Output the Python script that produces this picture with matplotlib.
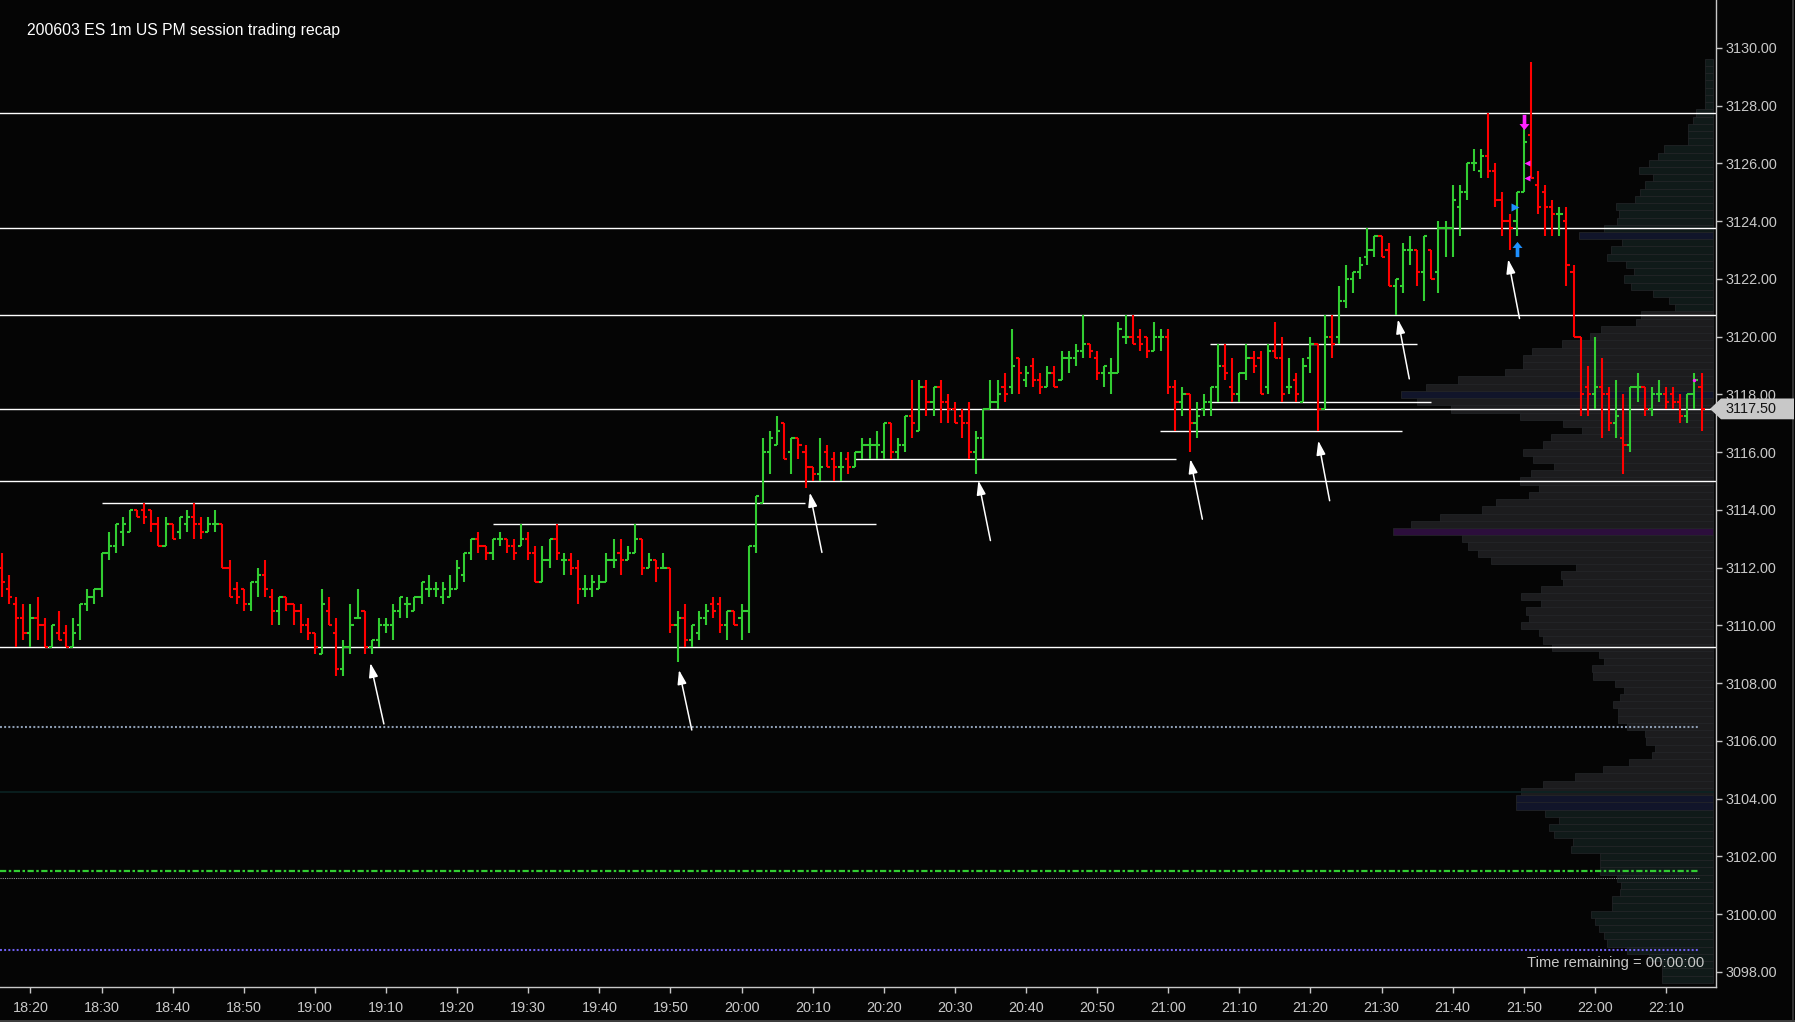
import matplotlib
matplotlib.use('Agg')
import matplotlib.pyplot as plt
from matplotlib.path import Path
from matplotlib.patches import Polygon
from matplotlib.lines import Line2D
import matplotlib.transforms as mtransforms
import numpy as np

plt.rcParams['font.family'] = ['Liberation Sans', 'DejaVu Sans']
plt.rcParams['lines.scale_dashes'] = False

# ---------------- data ----------------
title = "200603 ES 1m US PM session trading recap"
time_labels = ["18:20", "18:30", "18:40", "18:50", "19:00", "19:10", "19:20", "19:30",
               "19:40", "19:50", "20:00", "20:10", "20:20", "20:30", "20:40", "20:50",
               "21:00", "21:10", "21:20", "21:30", "21:40", "21:50", "22:00", "22:10"]
first_label_bar = 4   # bar index of 18:20 (first bar = 18:16)

opens = [3112.0, 3111.25, 3110.75, 3110.25, 3109.75, 3110.25, 3110.0, 3109.25, 3109.75, 3109.75,
         3109.25, 3110.0, 3110.75, 3111.0, 3111.25, 3112.5, 3112.75, 3113.25, 3113.25, 3114.0,
         3114.0, 3114.0, 3113.5, 3112.75, 3113.5, 3113.25, 3113.5, 3113.75, 3113.5, 3113.25,
         3113.5, 3113.5, 3112.0, 3111.25, 3111.25, 3110.75, 3111.5, 3111.75, 3111.0, 3110.5,
         3111.0, 3110.75, 3110.5, 3110.0, 3109.75, 3109.0, 3110.5, 3109.75, 3108.5, 3109.25,
         3110.25, 3110.5, 3109.25, 3109.5, 3110.0, 3110.0, 3110.5, 3110.75, 3110.5, 3111.0,
         3111.25, 3111.25, 3111.0, 3111.0, 3111.25, 3111.75, 3112.5, 3113.0, 3112.75, 3112.5,
         3113.0, 3113.0, 3112.75, 3112.75, 3113.0, 3112.5, 3111.5, 3112.25, 3113.0, 3112.25,
         3112.25, 3112.0, 3111.25, 3111.25, 3111.25, 3111.5, 3112.25, 3112.5, 3112.25, 3112.5,
         3113.0, 3112.0, 3112.25, 3112.0, 3112.0, 3110.0, 3110.25, 3109.5, 3109.75, 3110.25,
         3110.75, 3110.75, 3110.0, 3110.5, 3110.25, 3110.5, 3112.75, 3114.25, 3116.0, 3116.25,
         3117.0, 3116.0, 3116.5, 3116.0, 3115.5, 3115.25, 3116.0, 3115.75, 3115.5, 3115.75,
         3115.5, 3116.0, 3116.25, 3116.25, 3116.0, 3117.0, 3116.0, 3116.25, 3117.25, 3116.75,
         3118.25, 3117.75, 3118.25, 3117.75, 3117.5, 3117.25, 3117.0, 3116.0, 3116.5, 3117.5,
         3117.75, 3118.25, 3118.25, 3119.25, 3118.5, 3119.0, 3118.5, 3118.25, 3118.75, 3118.5,
         3119.25, 3119.25, 3119.5, 3119.75, 3119.25, 3118.75, 3118.75, 3118.75, 3120.0, 3120.0,
         3120.0, 3120.0, 3119.5, 3120.0, 3120.0, 3118.25, 3117.75, 3118.0, 3117.0, 3117.5,
         3117.75, 3118.25, 3119.0, 3118.25, 3118.0, 3118.75, 3119.25, 3119.25, 3118.25, 3119.5,
         3119.25, 3118.25, 3118.5, 3117.75, 3119.25, 3119.75, 3117.5, 3120.0, 3120.0, 3121.25,
         3122.0, 3122.25, 3122.75, 3123.0, 3123.5, 3123.0, 3121.75, 3121.75, 3123.0, 3123.0,
         3122.25, 3123.0, 3122.25, 3123.75, 3123.75, 3124.5, 3125.0, 3126.0, 3125.75, 3126.25,
         3125.75, 3124.75, 3124.0, 3124.0, 3125.0, 3127.0, 3125.25, 3125.0, 3124.5, 3124.25,
         3124.0, 3122.25, 3120.0, 3118.25, 3118.0, 3118.25, 3118.0, 3117.0, 3116.5, 3116.25,
         3118.25, 3118.25, 3117.5, 3118.0, 3118.0, 3118.0, 3117.75, 3117.25, 3118.0, 3118.25]
highs = [3112.5, 3111.75, 3111.0, 3110.75, 3110.75, 3111.0, 3110.25, 3110.0, 3110.5, 3110.0,
         3110.25, 3110.75, 3111.25, 3111.25, 3112.5, 3113.25, 3113.5, 3113.75, 3114.0, 3114.0,
         3114.25, 3114.0, 3113.75, 3113.75, 3113.5, 3113.75, 3114.0, 3114.25, 3113.75, 3113.75,
         3114.0, 3113.5, 3112.25, 3111.5, 3111.25, 3111.5, 3112.0, 3112.25, 3111.25, 3111.0,
         3111.0, 3110.75, 3110.75, 3110.25, 3109.75, 3111.25, 3111.0, 3110.25, 3109.5, 3110.75,
         3111.25, 3110.5, 3109.5, 3110.25, 3110.25, 3110.75, 3111.0, 3111.0, 3111.0, 3111.5,
         3111.75, 3111.5, 3111.5, 3111.75, 3112.25, 3112.5, 3113.0, 3113.25, 3112.75, 3113.0,
         3113.25, 3113.0, 3113.0, 3113.5, 3113.25, 3112.75, 3112.75, 3113.0, 3113.5, 3112.5,
         3112.5, 3112.25, 3111.75, 3111.75, 3111.75, 3112.5, 3113.0, 3113.0, 3112.75, 3113.5,
         3113.0, 3112.5, 3112.25, 3112.5, 3112.0, 3110.5, 3110.75, 3110.0, 3110.5, 3110.75,
         3111.0, 3111.0, 3110.5, 3110.5, 3110.75, 3112.75, 3114.5, 3116.5, 3116.75, 3117.25,
         3117.0, 3116.5, 3116.5, 3116.25, 3115.5, 3116.5, 3116.25, 3116.0, 3116.0, 3116.0,
         3116.0, 3116.5, 3116.5, 3116.75, 3117.0, 3117.0, 3116.5, 3117.25, 3118.5, 3118.5,
         3118.5, 3118.25, 3118.5, 3118.0, 3117.75, 3117.5, 3117.75, 3116.75, 3117.5, 3118.5,
         3118.5, 3118.75, 3120.25, 3119.25, 3119.0, 3119.25, 3118.75, 3119.0, 3119.0, 3119.5,
         3119.5, 3119.75, 3120.75, 3119.75, 3119.5, 3119.0, 3119.25, 3120.5, 3120.75, 3120.75,
         3120.25, 3120.0, 3120.5, 3120.25, 3120.25, 3118.5, 3118.25, 3118.0, 3117.75, 3118.0,
         3118.25, 3119.75, 3119.75, 3119.25, 3118.75, 3119.75, 3119.5, 3119.5, 3119.75, 3120.5,
         3120.0, 3119.25, 3118.75, 3119.25, 3120.0, 3119.75, 3120.75, 3120.75, 3121.75, 3122.5,
         3122.25, 3122.75, 3123.75, 3123.5, 3123.5, 3123.25, 3122.0, 3123.25, 3123.5, 3123.0,
         3123.5, 3123.0, 3124.0, 3124.0, 3125.25, 3125.25, 3126.0, 3126.5, 3126.5, 3127.75,
         3126.0, 3125.0, 3124.25, 3125.0, 3127.5, 3129.5, 3125.75, 3125.25, 3124.75, 3124.5,
         3124.5, 3122.5, 3120.0, 3119.0, 3120.0, 3119.25, 3118.25, 3118.5, 3118.0, 3118.25,
         3118.75, 3118.25, 3118.25, 3118.5, 3118.25, 3118.25, 3118.0, 3118.0, 3118.75, 3118.75]
lows = [3111.0, 3110.75, 3109.25, 3109.5, 3109.25, 3109.5, 3109.25, 3109.25, 3109.5, 3109.25,
        3109.25, 3109.5, 3110.5, 3110.75, 3111.0, 3112.25, 3112.5, 3112.75, 3113.25, 3113.75,
        3113.5, 3113.25, 3112.75, 3112.75, 3113.0, 3113.0, 3113.25, 3113.0, 3113.0, 3113.25,
        3113.25, 3112.0, 3111.0, 3110.75, 3110.5, 3110.5, 3111.0, 3111.0, 3110.0, 3110.0,
        3110.5, 3110.0, 3109.75, 3109.5, 3109.0, 3109.0, 3110.0, 3108.25, 3108.25, 3109.0,
        3110.25, 3109.0, 3109.0, 3109.25, 3109.75, 3109.5, 3110.25, 3110.25, 3110.5, 3110.75,
        3111.0, 3111.0, 3110.75, 3111.0, 3111.25, 3111.5, 3112.25, 3112.5, 3112.25, 3112.25,
        3112.75, 3112.5, 3112.25, 3112.75, 3112.25, 3111.5, 3111.5, 3112.0, 3112.25, 3111.75,
        3111.75, 3110.75, 3111.0, 3111.0, 3111.25, 3111.5, 3112.0, 3111.75, 3112.25, 3112.5,
        3111.75, 3112.0, 3111.5, 3112.0, 3109.75, 3108.75, 3109.25, 3109.25, 3109.5, 3110.0,
        3110.25, 3109.75, 3109.5, 3110.0, 3109.5, 3109.75, 3112.5, 3114.25, 3115.25, 3116.25,
        3115.75, 3115.25, 3115.75, 3114.75, 3115.0, 3115.0, 3115.5, 3115.0, 3115.0, 3115.25,
        3115.5, 3115.75, 3115.75, 3115.75, 3115.75, 3115.75, 3115.75, 3116.0, 3116.5, 3116.75,
        3117.25, 3117.25, 3117.0, 3117.0, 3117.0, 3116.5, 3115.75, 3115.25, 3115.75, 3117.5,
        3117.5, 3117.75, 3118.0, 3118.0, 3118.25, 3118.25, 3118.0, 3118.25, 3118.25, 3118.5,
        3118.75, 3119.0, 3119.25, 3119.25, 3118.5, 3118.25, 3118.0, 3118.75, 3119.75, 3119.75,
        3119.5, 3119.25, 3119.5, 3119.5, 3118.0, 3116.75, 3117.25, 3116.0, 3116.5, 3117.25,
        3117.25, 3117.75, 3118.5, 3117.75, 3117.75, 3118.5, 3118.75, 3118.0, 3118.0, 3119.25,
        3117.75, 3118.0, 3117.75, 3117.75, 3118.75, 3116.75, 3117.5, 3119.25, 3119.75, 3121.0,
        3121.5, 3122.0, 3122.5, 3122.75, 3122.75, 3121.75, 3120.75, 3121.5, 3122.5, 3121.75,
        3121.25, 3122.0, 3121.5, 3122.75, 3122.75, 3123.5, 3124.75, 3125.75, 3125.5, 3125.5,
        3124.5, 3123.5, 3123.0, 3123.5, 3125.0, 3125.5, 3124.25, 3123.5, 3123.5, 3123.5,
        3121.75, 3120.0, 3117.25, 3117.25, 3117.5, 3116.5, 3116.75, 3116.5, 3115.25, 3116.0,
        3117.75, 3117.25, 3117.25, 3117.75, 3117.5, 3117.5, 3117.0, 3117.0, 3117.5, 3116.75]
closes = [3111.5, 3111.0, 3110.25, 3109.75, 3110.25, 3110.0, 3109.25, 3110.0, 3109.5, 3109.25,
          3109.75, 3110.75, 3111.0, 3111.25, 3112.5, 3112.75, 3113.5, 3113.5, 3114.0, 3113.75,
          3113.75, 3113.5, 3112.75, 3113.5, 3113.0, 3113.75, 3113.75, 3113.5, 3113.25, 3113.5,
          3113.5, 3112.0, 3111.0, 3111.0, 3110.75, 3111.5, 3111.75, 3111.25, 3110.5, 3111.0,
          3110.75, 3110.5, 3110.0, 3109.75, 3109.25, 3110.75, 3110.0, 3108.5, 3109.25, 3110.0,
          3110.25, 3109.25, 3109.5, 3110.0, 3110.0, 3110.5, 3111.0, 3110.75, 3111.0, 3111.5,
          3111.25, 3111.25, 3111.25, 3111.25, 3112.0, 3112.5, 3113.0, 3112.75, 3112.5, 3113.0,
          3113.0, 3112.75, 3112.5, 3113.0, 3112.5, 3111.5, 3112.25, 3113.0, 3112.5, 3112.25,
          3112.0, 3111.25, 3111.25, 3111.5, 3111.5, 3112.25, 3112.25, 3112.25, 3112.5, 3113.0,
          3112.0, 3112.25, 3112.0, 3112.0, 3110.0, 3110.25, 3109.5, 3110.0, 3110.25, 3110.5,
          3110.5, 3110.0, 3110.5, 3110.0, 3110.5, 3112.75, 3114.5, 3116.0, 3116.5, 3116.75,
          3115.75, 3116.5, 3116.25, 3115.5, 3115.25, 3115.5, 3115.5, 3115.5, 3115.5, 3115.5,
          3116.0, 3116.25, 3116.25, 3116.25, 3117.0, 3116.0, 3116.25, 3117.25, 3117.0, 3118.25,
          3117.75, 3118.25, 3117.75, 3117.5, 3117.0, 3117.0, 3116.0, 3116.5, 3117.5, 3117.75,
          3118.0, 3118.0, 3119.0, 3118.75, 3118.75, 3118.5, 3118.25, 3118.75, 3118.25, 3119.25,
          3119.25, 3119.5, 3119.75, 3119.5, 3118.75, 3119.0, 3118.75, 3120.25, 3120.0, 3119.75,
          3119.75, 3119.5, 3120.0, 3120.0, 3118.25, 3117.75, 3118.0, 3117.0, 3117.25, 3117.75,
          3118.25, 3119.0, 3118.75, 3118.0, 3118.75, 3119.25, 3119.0, 3118.0, 3119.5, 3119.25,
          3118.0, 3118.25, 3118.0, 3119.0, 3119.75, 3117.5, 3120.0, 3119.75, 3121.25, 3122.0,
          3122.25, 3122.5, 3123.0, 3123.5, 3122.75, 3121.75, 3122.0, 3123.0, 3123.0, 3122.25,
          3123.5, 3122.0, 3123.75, 3123.75, 3124.75, 3125.0, 3126.0, 3126.0, 3126.25, 3125.75,
          3124.75, 3124.0, 3123.75, 3125.0, 3126.75, 3125.5, 3124.5, 3124.5, 3124.25, 3124.25,
          3122.5, 3120.0, 3118.0, 3118.0, 3118.25, 3118.0, 3117.0, 3117.25, 3116.25, 3118.25,
          3118.25, 3117.5, 3118.0, 3118.0, 3117.75, 3117.75, 3117.25, 3118.0, 3118.5, 3117.5]

# horizontal levels
full_levels = [3127.75, 3123.75, 3120.75, 3117.5, 3115.0, 3109.25]
seg_prices = [3114.25, 3113.5, 3115.75, 3116.75, 3119.75, 3117.75]
seg_start = [14.1, 69.0, 120.0, 162.8, 169.9, 169.9]
seg_end = [112.9, 122.9, 165.1, 196.9, 199.0, 201.0]
dotted_level = 3106.5
green_dashdot_level = 3101.5
grey_dotted_level = 3101.25
blue_dotted_level = 3098.75
teal_level = 3104.25
lines_end_bar = 238.8

# annotation arrows (bar index, price)
arrow_tip_x = [51.8, 95.2, 113.6, 137.3, 167.1, 185.1, 196.3, 211.8]
arrow_tip_y = [3108.70, 3108.46, 3114.60, 3115.02, 3115.76, 3116.40, 3120.60, 3122.68]
arrow_tail_x = [53.7, 97.0, 115.3, 139.0, 168.8, 186.7, 197.9, 213.4]
arrow_tail_y = [3106.59, 3106.38, 3112.53, 3112.94, 3113.68, 3114.32, 3118.54, 3120.63]

# signal markers
sell_arrow_x, sell_arrow_y = [214.0], [3127.45]
buy_arrow_x, buy_arrow_y = [213.05], [3123.04]
sell_tri_x, sell_tri_y = [214.45, 214.45], [3126.0, 3125.5]
buy_tri_x, buy_tri_y = [212.7], [3124.5]
dot_x, dot_y = [238.0], [3118.5]

# volume profile (price levels ascending from 3097.75, step 0.25)
vp_start = 3097.75
vp_volume = [51, 51, 51, 64, 86, 106, 109, 114, 118, 122,
             101, 101, 93, 92, 96, 113, 113, 113, 142, 140,
             159, 164, 154, 168, 197, 197, 192, 170, 138, 110,
             84, 61, 58, 67, 68, 86, 95, 95, 100, 93,
             89, 98, 120, 121, 109, 114, 161, 170, 174, 192,
             184, 187, 172, 192, 172, 150, 152, 137, 222, 235,
             245, 251, 320, 302, 273, 231, 217, 184, 174, 193,
             182, 159, 180, 190, 170, 162, 131, 150, 193, 262,
             296, 312, 287, 255, 208, 190, 190, 181, 151, 123,
             112, 77, 72, 38, 44, 60, 82, 89, 79, 87,
             106, 102, 91, 134, 109, 96, 94, 97, 78, 73,
             68, 60, 74, 64, 55, 49, 25, 25, 25, 20,
             17, 8, 8, 8, 8, 8, 8, 8]
value_area = (3104.25, 3120.75)
highlight_levels = [3123.5, 3118.0, 3104.0, 3103.75]
last_price = closes[-1]
time_remaining = "Time remaining = 00:00:00"

# ---------------- figure ----------------
W, H = 1795, 1022
BG = '#050505'
GREEN = '#32cd32'
RED = '#ff0000'
TXT = '#c8c8c8'

fig = plt.figure(figsize=(W / 100, H / 100), dpi=100, facecolor=BG)
rect = [0, 1 - 987 / H, 1716 / W, 987 / H]
ylim = (3097.48, 3131.66)
xlim = (-0.28, 241.03)

# volume profile axis (below)
axv = fig.add_axes(rect)
axv.set_facecolor(BG)
axv.set_xlim(1713, -3)
axv.set_ylim(*ylim)
axv.axis('off')
vp_prices = vp_start + 0.25 * np.arange(len(vp_volume))
poc = vp_prices[int(np.argmax(vp_volume))]
cols = []
for p in vp_prices:
    if abs(p - poc) < 1e-6:
        cols.append('#2c0e3c')
    elif any(abs(p - h) < 1e-6 for h in highlight_levels):
        cols.append('#11152a')
    elif value_area[0] <= p <= value_area[1]:
        cols.append('#1c1c1e')
    else:
        cols.append('#101a19')
axv.barh(vp_prices, vp_volume, height=0.25, left=0, color=cols,
         edgecolor='#25272a', linewidth=0.5)

# main axis
ax = fig.add_axes(rect)
ax.patch.set_alpha(0)
ax.set_xlim(*xlim)
ax.set_ylim(*ylim)

# levels
for lv in full_levels:
    ax.axhline(lv, color='white', lw=1.0, zorder=2)
ax.hlines(seg_prices, seg_start, seg_end, color='white', lw=1.0, zorder=2)
ax.plot([xlim[0], 240.6], [teal_level] * 2, color='#0b2322', lw=1.2, zorder=1.5)
ax.plot([xlim[0], lines_end_bar], [dotted_level] * 2, color='#8d9db3', lw=1.5,
        linestyle=(0, (1.4, 1.6)), zorder=2)
ax.plot([xlim[0], lines_end_bar], [green_dashdot_level] * 2, color=GREEN, lw=1.6,
        linestyle=(0, (4.5, 1.8, 1.8, 1.8)), zorder=2)
ax.plot([xlim[0], lines_end_bar], [grey_dotted_level] * 2, color='#9a9a9a', lw=0.7,
        linestyle=(0, (0.8, 0.8)), zorder=2)
ax.plot([xlim[0], lines_end_bar], [blue_dotted_level] * 2, color='#6e5ff0', lw=1.5,
        linestyle=(0, (1.4, 1.6)), zorder=2)

# OHLC bars
idx = np.arange(len(opens))
o = np.array(opens); h = np.array(highs); l = np.array(lows); c = np.array(closes)
bc = [GREEN if cc >= oo else RED for oo, cc in zip(o, c)]
ax.vlines(idx, l, h, colors=bc, lw=1.5, capstyle='butt', zorder=3)
ax.hlines(o, idx - 0.45, idx, colors=bc, lw=1.5, capstyle='butt', zorder=3)
ax.hlines(c, idx, idx + 0.45, colors=bc, lw=1.5, capstyle='butt', zorder=3)

# annotation arrows
for tx, ty, sx, sy in zip(arrow_tip_x, arrow_tip_y, arrow_tail_x, arrow_tail_y):
    ax.annotate('', xy=(tx, ty), xytext=(sx, sy),
                arrowprops=dict(arrowstyle='-|>,head_length=0.85,head_width=0.27',
                                color='white', lw=1.1, shrinkA=0, shrinkB=0,
                                mutation_scale=10), zorder=4)

# signal markers
down_arrow = Path([(-0.24, 1), (0.24, 1), (0.24, -0.2), (0.66, -0.2), (0, -1),
                   (-0.66, -0.2), (-0.24, -0.2), (-0.24, 1)])
up_arrow = Path([(x, -y) for x, y in down_arrow.vertices])
ax.scatter(sell_arrow_x, sell_arrow_y, marker=down_arrow, s=120, color='#ff22ff',
           linewidths=0, zorder=5)
ax.scatter(buy_arrow_x, buy_arrow_y, marker=up_arrow, s=120, color='#1e90ff',
           linewidths=0, zorder=5)
ax.plot(sell_tri_x, sell_tri_y, ls='none', marker='<', ms=5, color='#ff22ff',
        mec='none', zorder=5)
ax.plot(buy_tri_x, buy_tri_y, ls='none', marker='>', ms=6, color='#1e90ff',
        mec='none', zorder=5)
ax.plot(dot_x, dot_y, ls='none', marker='o', ms=2.5, color='#ff22ff', mec='none', zorder=5)

# axes styling
for s in ['left', 'top']:
    ax.spines[s].set_visible(False)
for s in ['right', 'bottom']:
    ax.spines[s].set_color('#c8c8c8')
    ax.spines[s].set_linewidth(1.0)
ax.yaxis.tick_right()
yt = np.arange(3098, 3131, 2)
ax.set_yticks(yt)
ax.set_yticklabels([f"{v:.2f}" for v in yt])
xt = first_label_bar + 10 * np.arange(len(time_labels))
ax.set_xticks(xt)
ax.set_xticklabels(time_labels)
ax.tick_params(axis='y', colors=TXT, labelcolor=TXT, length=4, width=1, pad=3,
               labelsize=10.4)
ax.tick_params(axis='x', colors=TXT, labelcolor=TXT, length=4.3, width=1, pad=5.5,
               labelsize=10.4)

# last price tag
tr = mtransforms.blended_transform_factory(fig.transFigure, ax.transData)
hh = 0.36
tag = Polygon([(1710 / W, last_price), (1721 / W, last_price + hh), (1794 / W, last_price + hh),
               (1794 / W, last_price - hh), (1721 / W, last_price - hh)],
              closed=True, transform=tr, facecolor='#c8c8c8', edgecolor='none',
              clip_on=False, zorder=6)
fig.add_artist(tag)
fig.text(1751 / W, last_price, f"{last_price:.2f}", transform=tr, ha='center', va='center',
         fontsize=10.4, color='#141414', zorder=7)

# texts
fig.text(27 / W, 1 - 31 / H, title, color='white', fontsize=11.3, va='center', ha='left')
ax.text(1704 / 1716, 1 - 963 / 987, time_remaining, transform=ax.transAxes,
        ha='right', va='center', color=TXT, fontsize=10.6, zorder=6)

# window borders
fig.add_artist(Line2D([0, 1], [1 - 1021 / H] * 2, transform=fig.transFigure,
                      color='#4a4a4a', lw=1.2))
fig.add_artist(Line2D([1793 / W] * 2, [0, 1], transform=fig.transFigure,
                      color='#3a3a3a', lw=1.2))

fig.savefig('out.png', dpi=100, facecolor=BG)
